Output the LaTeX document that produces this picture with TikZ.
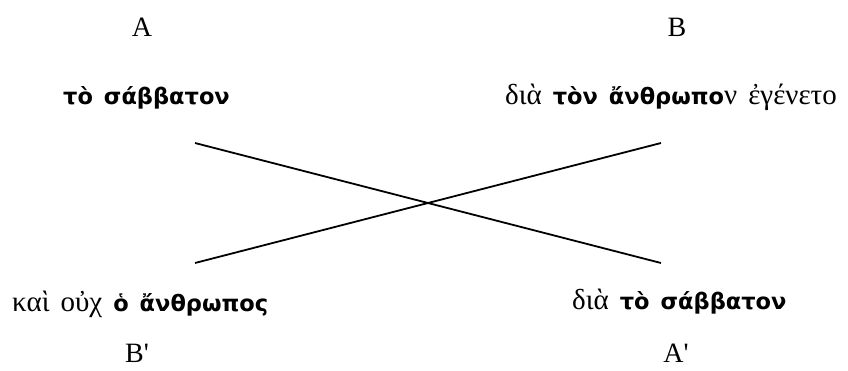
\documentclass[tikz,border=0pt]{standalone}
\usepackage{fontspec}
\setmainfont{Liberation Serif}
\newfontfamily\gsans{DejaVu Sans}
\newcommand\gbf[1]{{\gsans\bfseries\fontsize{22.5}{24}\selectfont #1}}
\begin{document}
\begin{tikzpicture}[x=1pt,y=-1pt,
  lab/.style={font=\fontsize{28}{30}\selectfont, inner sep=0, anchor=base},
  gk/.style={font={\fontsize{29}{31}\selectfont\spaceskip=11pt\relax}, inner sep=0, anchor=base west},
  link/.style={line width=1.8pt}]
\useasboundingbox (0,0) rectangle (848,370);
\node[lab] (a) at (142,36) {A};
\node[lab] (b) at (677,36) {B};
\node[gk] (t1) at (63,104) {\gbf{τὸ σάββατον}};
\node[gk] (t2) at (505,104) {διὰ \gbf{τὸν ἄνθρωπο}ν ἐγένετο};
\node[gk] (t3) at (12,311) {καὶ οὐχ \gbf{ὁ ἄνθρωπος}};
\node[gk] (t4) at (572,309) {διὰ \gbf{τὸ σάββατον}};
\node[lab] (bp) at (137,362) {B\textquotesingle};
\node[lab] (ap) at (676,362) {A\textquotesingle};
\coordinate (lt) at (195,143);
\coordinate (rt) at (661,143);
\coordinate (lb) at (195,263);
\coordinate (rb) at (661,263);
\draw[link] (lt) -- (rb);
\draw[link] (lb) -- (rt);
\end{tikzpicture}
\end{document}
